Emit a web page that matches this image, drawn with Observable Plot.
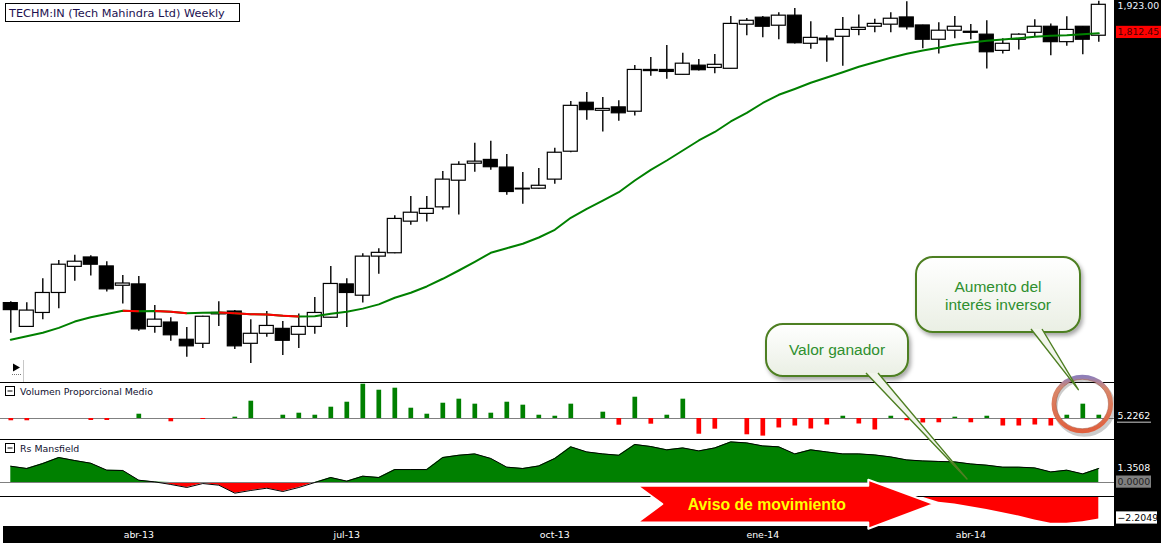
<!DOCTYPE html>
<html>
<head>
<meta charset="utf-8">
<script src="https://cdn.jsdelivr.net/npm/d3@7"></script>
<script src="https://cdn.jsdelivr.net/npm/@observablehq/plot@0.6"></script>
<style>
  body { margin: 0; background: #fff; }
  #chart { position: relative; width: 1161px; height: 543px; overflow: hidden; background: #fff; }
  #chart svg { display: block; }
</style>
</head>
<body>
<div id="chart"></div>
<script>
// one bar per week, Monday of each week (4 feb 2013 .. 26 may 2014)
const weeks = d3.utcMonday.range(new Date(Date.UTC(2013, 1, 4)), new Date(Date.UTC(2014, 5, 2)));

const open = [
  1033, 983, 1012, 1055, 1114, 1136, 1115, 1071, 1074, 983,
  992, 957, 949, 1009, 1015, 949, 969, 979, 967, 983,
  1002, 1074, 1049, 1138, 1146, 1224, 1244, 1261, 1333, 1381,
  1392, 1370, 1311, 1311, 1336, 1416, 1568, 1542, 1553, 1539,
  1679, 1679, 1662, 1694, 1686, 1683, 1845, 1872, 1841, 1880,
  1773, 1792, 1799, 1825, 1837, 1845, 1873, 1842, 1788, 1822,
  1818, 1807, 1747, 1788, 1814, 1837, 1779, 1837, 1803
];
const high = [
  1036, 1034, 1087, 1129, 1141, 1140, 1126, 1094, 1092, 1028,
  1002, 982, 1005, 1036, 1017, 998, 1015, 994, 1010, 1045,
  1115, 1087, 1145, 1157, 1239, 1290, 1290, 1359, 1387, 1441,
  1447, 1408, 1356, 1367, 1426, 1572, 1602, 1585, 1575, 1695,
  1723, 1767, 1738, 1716, 1734, 1877, 1869, 1877, 1891, 1908,
  1856, 1803, 1873, 1883, 1866, 1891, 1935, 1843, 1852, 1877,
  1846, 1860, 1792, 1810, 1864, 1848, 1876, 1838, 1937
];
const low = [
  970, 982, 998, 1021, 1081, 1093, 1057, 1031, 974, 970,
  954, 923, 940, 984, 938, 911, 962, 926, 940, 968,
  1001, 982, 1033, 1097, 1145, 1215, 1223, 1254, 1241, 1357,
  1362, 1293, 1269, 1310, 1323, 1413, 1512, 1475, 1509, 1525,
  1657, 1647, 1661, 1675, 1666, 1682, 1803, 1795, 1788, 1772,
  1753, 1706, 1692, 1803, 1814, 1814, 1825, 1755, 1736, 1792,
  1788, 1682, 1736, 1750, 1798, 1729, 1764, 1733, 1779
];
const close = [
  1018, 1017, 1055, 1119, 1126, 1119, 1063, 1076, 978, 998,
  966, 944, 1004, 1012, 944, 969, 985, 955, 983, 1012,
  1075, 1055, 1138, 1147, 1231, 1247, 1257, 1336, 1378, 1387,
  1371, 1302, 1309, 1319, 1413, 1558, 1544, 1548, 1534, 1679,
  1675, 1672, 1701, 1678, 1697, 1848, 1860, 1837, 1880, 1775,
  1795, 1786, 1825, 1833, 1848, 1868, 1835, 1788, 1822, 1837,
  1814, 1742, 1773, 1807, 1837, 1779, 1825, 1788, 1923
];
// moving average drawn over the candles
const ma = [
  957, 964, 971, 981, 994, 1003, 1010, 1016.5, 1015.5, 1016,
  1014.5, 1011.6, 1012.4, 1013, 1011.4, 1009.4, 1008.8, 1006.1, 1004.6, 1005.2,
  1010.3, 1014.5, 1021.2, 1030.3, 1044.5, 1055.4, 1069.4, 1086.7, 1105.6, 1125.8,
  1147.1, 1158.2, 1168.9, 1184.3, 1203.4, 1233.9, 1257.3, 1279.1, 1301.5, 1333.6,
  1363.6, 1390.3, 1419.6, 1449.5, 1475.4, 1508, 1535.6, 1567.3, 1594.3, 1613.7,
  1634.6, 1652.8, 1671.1, 1690.1, 1706.3, 1722.1, 1736.5, 1748.4, 1758.3, 1769.2,
  1777.8, 1784.1, 1789, 1793.8, 1799.1, 1802.8, 1805.1, 1808.8, 1812.45
];
// Volumen Proporcional Medio
const volume = [
  -3.6, -3.6, 0, 0, 0, -3.2, -3.2, 0, 6.8, 0,
  -5.2, 0, -1.6, 0, 2.1, 27.4, 0, 5.2, 8.4, 5.2,
  17.9, 25.8, 54.3, 44.8, 48.0, 16.3, 6.8, 24.2, 30.6, 22.7,
  8.4, 25.8, 21.1, 5.2, 3.6, 22.7, 0, 10.0, -10.6, 33.7,
  -9.0, 5.2, 30.6, -24.9, -16.9, 0, -25.8, -27.9, -15.0, -11.9,
  -16.6, -10.3, 3.6, -8.7, -18.2, 3.6, -3.5, -7.1, -6.8, 2.1,
  -6.8, 3.6, -11.9, -11.9, -10.3, -11.9, 5.2, 22.7, 5.2262
];
// Rs Mansfield
const rsMansfield = [
  1.57, 1.35, 1.83, 2.41, 2.12, 1.86, 1.19, 1.16, 0.22, 0.06,
  -0.19, -0.48, -0.10, -0.26, -1.03, -0.77, -0.55, -0.87, -0.48, 0.0,
  0.48, 0.13, 0.61, 0.48, 1.25, 1.25, 1.25, 2.41, 2.63, 2.76,
  2.32, 1.48, 1.35, 1.60, 2.32, 3.44, 2.95, 2.76, 2.63, 3.67,
  3.47, 3.15, 3.34, 3.05, 3.34, 3.92, 3.82, 3.53, 3.44, 2.76,
  3.15, 2.95, 2.76, 2.76, 2.66, 2.47, 2.18, 2.08, 2.03, 1.99,
  1.79, 1.67, 1.48, 1.48, 1.41, 1.02, 1.19, 0.83, 1.3508
];
// lower strip (negative side)
const rsLower = [
  -0.1, 0, 0, 0, 0, 0, 0, 0, 0, 0,
  0, 0, 0, 0, 0, 0, 0, 0, 0, 0,
  0, 0, 0, 0, 0, 0, 0, 0, 0, 0,
  0, 0, 0, 0, 0, 0, 0, 0, 0, 0,
  0, 0, 0, 0, 0, 0, 0, 0, 0, 0,
  0, 0, 0, 0, 0, 0, 0, -0.08, -0.55, -0.74,
  -1.0, -1.27, -1.59, -1.91, -2.30, -2.60, -2.60, -2.47, -2.2049
];

const tickDates = ["2013-04-01", "2013-07-01", "2013-09-30", "2013-12-30", "2014-03-31"];
const tickLabels = ["abr-13", "jul-13", "oct-13", "ene-14", "abr-14"];

const bars = weeks.map((date, i) => ({
  date, open: open[i], high: high[i], low: low[i], close: close[i],
  ma: ma[i], volume: volume[i], rs: rsMansfield[i], rs2: rsLower[i]
}));
const maDown = d3.pairs(bars)
  .filter(([a, b]) => b.ma < a.ma)
  .map(([a, b]) => ({x1: a.date, y1: a.ma, x2: b.date, y2: b.ma}));
const ticks = tickDates.map((d, i) => ({date: new Date(d), label: tickLabels[i]}));

const W = 1161, H = 543, plotW = 1114;
const layout = {price: [0, 382], volume: [382, 57], rs: [439, 57], lower: [496, 30], axis: [526, 17]};
const GREEN = "#008000", RED = "#ff0000";
const FONT = "DejaVu Sans";
const halfBody = 3.06 * 864e5; // about 7px either side of the week

const xOpts = {type: "utc", domain: [weeks[0], weeks[weeks.length - 1]], range: [10.3, 1098.3], axis: null};
const plotStyle = {background: "transparent", overflow: "visible"};

const root = document.getElementById("chart");
const place = (node, top, left = 0) => {
  const div = document.createElement("div");
  div.style.cssText = `position:absolute;left:${left}px;top:${top}px;`;
  div.appendChild(node);
  root.appendChild(div);
  return div;
};
const block = (left, top, w, h, bg) => {
  const div = document.createElement("div");
  div.style.cssText = `position:absolute;left:${left}px;top:${top}px;width:${w}px;height:${h}px;background:${bg};`;
  root.appendChild(div);
};

//Price panel
const pricePlot = Plot.plot({
  width: plotW, height: layout.price[1], margin: 0, style: plotStyle,
  x: xOpts,
  y: {type: "log", domain: [875.5, 1940.3], range: [layout.price[1], 0], axis: null},
  color: {type: "identity"},
  marks: [
    Plot.ruleX(bars, {x: "date", y1: "low", y2: "high", stroke: "#000", strokeWidth: 1.4}),
    Plot.rect(bars, {
      x1: (d) => new Date(+d.date - halfBody),
      x2: (d) => new Date(+d.date + halfBody),
      y1: "open", y2: "close",
      fill: (d) => (d.close < d.open ? "#000" : "#fff"),
      stroke: "#000", strokeWidth: 1.2
    }),
    Plot.line(bars, {x: "date", y: "ma", stroke: GREEN, strokeWidth: 2}),
    Plot.link(maDown, {x1: "x1", y1: "y1", x2: "x2", y2: "y2", stroke: RED, strokeWidth: 2})
  ]
});

//Volume panel
const volPlot = Plot.plot({
  width: plotW, height: layout.volume[1], margin: 0, style: plotStyle,
  x: xOpts,
  y: {domain: [-33.26, 57.02], range: [layout.volume[1], 0], axis: null},
  color: {type: "identity"},
  marks: [
    Plot.ruleY([0], {stroke: "#808080"}),
    Plot.ruleX(bars, {x: "date", y1: 0, y2: "volume", stroke: (d) => (d.volume >= 0 ? GREEN : RED), strokeWidth: 4.7})
  ]
});

//Rs Mansfield panel
const rsPlot = Plot.plot({
  width: plotW, height: layout.rs[1], margin: 0, style: plotStyle,
  x: xOpts,
  y: {domain: [-1.351, 4.15], range: [layout.rs[1], 0], axis: null},
  marks: [
    Plot.areaY(bars, {x: "date", y: (d) => Math.max(0, d.rs), fill: GREEN}),
    Plot.areaY(bars, {x: "date", y: (d) => Math.min(0, d.rs), fill: RED}),
    Plot.ruleY([0], {stroke: "#808080"}),
    Plot.line(bars, {x: "date", y: "rs", stroke: "#000", strokeWidth: 1})
  ]
});

//Lower strip
const lowPlot = Plot.plot({
  width: plotW, height: layout.lower[1], margin: 0, style: plotStyle,
  x: xOpts,
  y: {domain: [-2.928, 0], range: [layout.lower[1], 0], axis: null},
  marks: [Plot.areaY(bars, {x: "date", y: "rs2", fill: RED})]
});

//Date strip
const axisPlot = Plot.plot({
  width: W, height: layout.axis[1], margin: 0, style: plotStyle,
  x: xOpts,
  marks: [Plot.text(ticks, {x: "date", text: "label", fill: "#fff", fontSize: 9.4, fontFamily: FONT, frameAnchor: "middle"})]
});

place(pricePlot, layout.price[0]);
place(volPlot, layout.volume[0]);
place(rsPlot, layout.rs[0]);
place(lowPlot, layout.lower[0]);
block(plotW, 0, W - plotW, H, "#000");
block(3, layout.axis[0], W - 3, layout.axis[1], "#000");
place(axisPlot, layout.axis[0]);

// scale helpers in page coordinates
const px = (d) => pricePlot.scale("x").apply(d);
const py = (v) => layout.price[0] + pricePlot.scale("y").apply(v);
const vy = (v) => layout.volume[0] + volPlot.scale("y").apply(v);
const ry = (v) => layout.rs[0] + rsPlot.scale("y").apply(v);
const ly = (v) => layout.lower[0] + lowPlot.scale("y").apply(v);

//Overlay: frames, labels, right scale and annotations
const svg = d3.create("svg").attr("width", W).attr("height", H)
  .style("position", "absolute").style("left", "0px").style("top", "0px")
  .style("font-family", FONT);
const defs = svg.append("defs");
defs.append("filter").attr("id", "shadow").attr("x", "-20%").attr("y", "-20%").attr("width", "150%").attr("height", "160%")
  .append("feDropShadow").attr("dx", 2).attr("dy", 3).attr("stdDeviation", 2.2)
  .attr("flood-color", "#000").attr("flood-opacity", 0.35);
const bubbleGrad = defs.append("linearGradient").attr("id", "bubble").attr("x1", 0).attr("y1", 0).attr("x2", 0).attr("y2", 1);
bubbleGrad.append("stop").attr("offset", "0%").attr("stop-color", "#ffffff");
bubbleGrad.append("stop").attr("offset", "100%").attr("stop-color", "#eaefe4");
const ringGrad = defs.append("linearGradient").attr("id", "ring").attr("x1", 0).attr("y1", 0).attr("x2", 0).attr("y2", 1);
ringGrad.append("stop").attr("offset", "0%").attr("stop-color", "#8f7fb8");
ringGrad.append("stop").attr("offset", "22%").attr("stop-color", "#d9876a");
ringGrad.append("stop").attr("offset", "100%").attr("stop-color", "#e0603e");

// panel separators
[382.5, 439.5, 496.5].forEach((y) => {
  svg.append("line").attr("x1", 0).attr("x2", plotW).attr("y1", y).attr("y2", y).attr("stroke", "#000");
});

// title
svg.append("rect").attr("x", 5.5).attr("y", 3.5).attr("width", 234).attr("height", 18)
  .attr("fill", "#fff").attr("stroke", "#000");
svg.append("text").attr("x", 9).attr("y", 16.6).attr("font-size", 11.3).attr("fill", "#1c1050")
  .text("TECHM:IN (Tech Mahindra Ltd) Weekly");

// small play button
svg.append("path").attr("d", "M13,363.5L20,367.5L13,371.5Z").attr("fill", "#000");
svg.append("line").attr("x1", 12).attr("x2", 21).attr("y1", 374.5).attr("y2", 374.5)
  .attr("stroke", "#777").attr("stroke-dasharray", "1,1");
svg.append("line").attr("x1", 23.5).attr("x2", 23.5).attr("y1", 360).attr("y2", 382)
  .attr("stroke", "#c8c8c8");

// panel titles
[["Volumen Proporcional Medio", 386.5], ["Rs Mansfield", 443.5]].forEach(([label, y]) => {
  svg.append("rect").attr("x", 5.5).attr("y", y).attr("width", 9).attr("height", 9)
    .attr("fill", "#fff").attr("stroke", "#000");
  svg.append("line").attr("x1", 7.5).attr("x2", 12.5).attr("y1", y + 4.5).attr("y2", y + 4.5).attr("stroke", "#000");
  svg.append("text").attr("x", 20).attr("y", y + 8).attr("font-size", 9.4).attr("fill", "#101030").text(label);
});

// right scale labels
const last = bars[bars.length - 1];
const rightLabels = [
  {y: Math.max(6, py(last.close) + 1.7), text: d3.format(",.2f")(last.close), fill: "#eef4ff"},
  {y: py(last.ma) - 0.7, text: d3.format(",.2f")(last.ma), fill: "#4a0000", box: RED, w: 45},
  {y: vy(last.volume) + 1, text: d3.format(".4f")(last.volume), fill: "#fff", underline: true},
  {y: ry(last.rs), text: d3.format(".4f")(last.rs), fill: "#fff"},
  {y: ry(0) - 0.3, text: d3.format(".4f")(0), fill: "#222", box: "#808080", w: 35},
  {y: ly(last.rs2) - 1, text: d3.format(".4f")(last.rs2), fill: "#000", box: "#fff", w: 41}
];
rightLabels.forEach((l) => {
  if (l.box) {
    svg.append("rect").attr("x", 1116).attr("y", l.y - 6.2).attr("width", l.w).attr("height", 12.2).attr("fill", l.box);
  }
  svg.append("text").attr("x", 1117.5).attr("y", l.y).attr("dy", "0.36em")
    .attr("font-size", 9.4).attr("fill", l.fill).text(l.text);
  if (l.underline) {
    svg.append("line").attr("x1", 1117).attr("x2", 1151).attr("y1", l.y + 6.5).attr("y2", l.y + 6.5)
      .attr("stroke", "#8a8a8a").attr("stroke-width", 1.6);
  }
});

// "Aviso de movimiento" arrow over the lower strip
const tail = px(weeks[39]) + 3, headBase = px(weeks[54]) - 6, tip = px(weeks[58]) - 4.3;
const mid = ly(0) + 8;
const arrow = [
  [tail, mid - 18.3], [headBase, mid - 18.3], [headBase, mid - 24.3], [tip, mid],
  [headBase, mid + 24.7], [headBase, mid + 18.5], [tail, mid + 18.5], [tail + 25, mid]
];
svg.append("path").attr("d", "M" + arrow.join("L") + "Z")
  .attr("fill", RED).attr("stroke", "#fff").attr("stroke-width", 2).attr("stroke-linejoin", "round");
svg.append("text").attr("x", (tail + headBase) / 2 + 14).attr("y", mid + 5.5)
  .attr("text-anchor", "middle").attr("font-family", "Liberation Sans, Arial, sans-serif")
  .attr("font-weight", "bold").attr("font-size", 15.8).attr("fill", "#ffff00")
  .text("Aviso de movimiento");

// ring around the last volume bars
const ringX = px(weeks[67]), ringY = vy(0) - 14;
svg.append("ellipse").attr("cx", ringX + 2).attr("cy", ringY + 3).attr("rx", 29).attr("ry", 27.5)
  .attr("fill", "none").attr("stroke", "#000").attr("stroke-opacity", 0.2).attr("stroke-width", 4.5);
svg.append("ellipse").attr("cx", ringX).attr("cy", ringY).attr("rx", 28.5).attr("ry", 27)
  .attr("fill", "none").attr("stroke", "url(#ring)").attr("stroke-width", 4.5);
svg.append("ellipse").attr("cx", ringX).attr("cy", ringY).attr("rx", 26.2).attr("ry", 24.7)
  .attr("fill", "none").attr("stroke", "#9c4a30").attr("stroke-opacity", 0.6).attr("stroke-width", 0.8);

// speech bubbles, each pointing at a data point
const notes = [
  {lines: ["Valor ganador"], box: [766, 324, 142, 52], base: [866, 878],
    tip: [px(weeks[60]) - 3.3, ry(0.3)], baselines: [355]},
  {lines: ["Aumento del", "interés inversor"], box: [916, 257, 164, 75], base: [1031, 1042],
    tip: [px(weeks[67]) - 4, vy(volume[67]) - 14], baselines: [292.3, 310.3]}
];

notes.forEach((n) => {
  const [bx, by, bw, bh] = n.box;
  const g = svg.append("g");
  g.append("rect").attr("x", bx).attr("y", by).attr("width", bw).attr("height", bh)
    .attr("rx", 17).attr("fill", "url(#bubble)").attr("stroke", "#4e7f22").attr("stroke-width", 2)
    .attr("filter", "url(#shadow)");
  const baseY = by + bh - 3;
  g.append("path")
    .attr("d", `M${n.base[0]},${baseY}L${n.tip[0]},${n.tip[1]}L${n.base[1]},${baseY}`)
    .attr("fill", "#f1f5ec").attr("stroke", "#4e7f22").attr("stroke-width", 1.4)
    .attr("stroke-linejoin", "round");
  n.lines.forEach((t, i) => {
    g.append("text").attr("x", bx + bw / 2).attr("y", n.baselines[i]).attr("text-anchor", "middle")
      .attr("font-family", "Liberation Sans, Arial, sans-serif").attr("font-size", 15.5)
      .attr("fill", "#2e8f2e").text(t);
  });
});

root.appendChild(svg.node());
</script>
</body>
</html>
